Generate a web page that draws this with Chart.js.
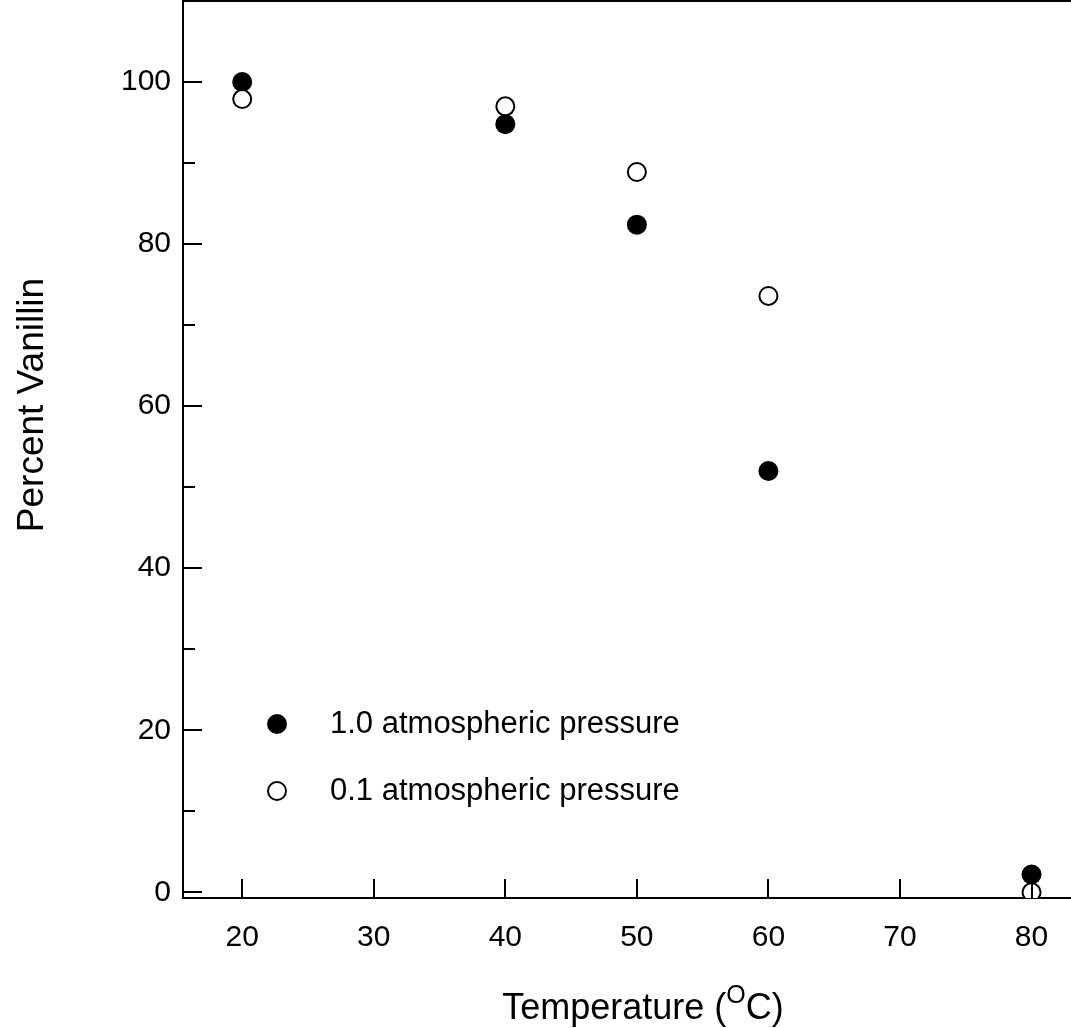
<!DOCTYPE html>
<html>
<head>
<meta charset="utf-8">
<script src="https://cdn.jsdelivr.net/npm/chart.js@4.4.0/dist/chart.umd.min.js"></script>
<style>
  body { margin: 0; background: #fff; }
  #wrap { width: 1071px; height: 1028px; }
</style>
</head>
<body>
<div id="wrap"><canvas id="chart" width="1071" height="1028"></canvas></div>
<script>
// data
const temps = [20, 40, 50, 60, 80];
const vanillinFull = [100, 94.8, 82.4, 52.0, 2.2];   // 1.0 atm, filled
const vanillinLow = [97.9, 97.0, 88.9, 73.6, 0];     // 0.1 atm, open
const seriesLabels = ['1.0 atmospheric pressure', '0.1 atmospheric pressure'];
const xTickLabels = [20, 30, 40, 50, 60, 70, 80];
const yTickLabels = [0, 20, 40, 60, 80, 100];
const yMinorTicks = [10, 30, 50, 70, 90];

const FONT = "'Liberation Sans', Arial, sans-serif";

const toPoints = (xs, ys) => xs.map((x, i) => ({ x: x, y: ys[i] }));

// inward tick marks, top frame line, titles and the legend
const decor = {
    id: 'decor',
    afterDraw(chart) {
        const ctx = chart.ctx;
        const area = chart.chartArea;
        const xs = chart.scales.x;
        const ys = chart.scales.y;
        ctx.save();
        ctx.strokeStyle = '#000';
        ctx.lineWidth = 2;
        ctx.beginPath();
        // top frame
        ctx.moveTo(area.left, area.top);
        ctx.lineTo(area.right, area.top);
        xTickLabels.forEach(v => {
            const px = Math.round(xs.getPixelForValue(v));
            ctx.moveTo(px, area.bottom);
            ctx.lineTo(px, area.bottom - 19);
        });
        yTickLabels.forEach(v => {
            const py = Math.round(ys.getPixelForValue(v));
            ctx.moveTo(area.left, py);
            ctx.lineTo(area.left + 19, py);
        });
        yMinorTicks.forEach(v => {
            const py = Math.round(ys.getPixelForValue(v));
            ctx.moveTo(area.left, py);
            ctx.lineTo(area.left + 12, py);
        });
        ctx.stroke();

        ctx.fillStyle = '#000';
        // y title
        ctx.save();
        ctx.translate(43, 405);
        ctx.rotate(-Math.PI / 2);
        ctx.font = '37px ' + FONT;
        ctx.textAlign = 'center';
        ctx.textBaseline = 'alphabetic';
        ctx.fillText('Percent Vanillin', 0, 0);
        ctx.restore();

        // x title with superscript O
        const big = '36px ' + FONT;
        const small = '25px ' + FONT;
        ctx.textAlign = 'left';
        ctx.textBaseline = 'alphabetic';
        ctx.font = big;
        const w1 = ctx.measureText('Temperature (').width;
        const w3 = ctx.measureText('C)').width;
        ctx.font = small;
        const w2 = ctx.measureText('O').width;
        let tx = 643 - (w1 + w2 + w3) / 2;
        const base = 1019;
        ctx.font = big;
        ctx.fillText('Temperature (', tx, base);
        tx += w1;
        ctx.font = small;
        ctx.fillText('O', tx, base - 16);
        tx += w2;
        ctx.font = big;
        ctx.fillText('C)', tx, base);

        // legend
        const rows = [724, 791];
        chart.data.datasets.forEach((ds, i) => {
            const y = rows[i];
            ctx.beginPath();
            ctx.arc(277, y, ds.pointRadius, 0, Math.PI * 2);
            ctx.fillStyle = ds.backgroundColor;
            ctx.fill();
            ctx.lineWidth = ds.borderWidth;
            ctx.strokeStyle = ds.borderColor;
            if (ds.borderWidth) ctx.stroke();
            ctx.fillStyle = '#000';
            ctx.font = '31px ' + FONT;
            ctx.textBaseline = 'middle';
            ctx.fillText(ds.label, 330, y);
        });
        ctx.restore();
    }
};

new Chart(document.getElementById('chart'), {
    type: 'scatter',
    data: {
        datasets: [
            {
                label: seriesLabels[0],
                data: toPoints(temps, vanillinFull),
                pointRadius: 10,
                pointHoverRadius: 10,
                backgroundColor: '#000',
                borderColor: '#000',
                borderWidth: 0,
                order: 2
            },
            {
                label: seriesLabels[1],
                data: toPoints(temps, vanillinLow),
                pointRadius: 9,
                pointHoverRadius: 9,
                backgroundColor: '#fff',
                borderColor: '#000',
                borderWidth: 2,
                order: 1
            }
        ]
    },
    options: {
        responsive: false,
        animation: false,
        devicePixelRatio: 1,
        layout: { autoPadding: false, padding: { top: 1, right: 0, bottom: 0, left: 0 } },
        plugins: {
            legend: { display: false },
            tooltip: { enabled: false }
        },
        scales: {
            x: {
                type: 'linear',
                min: 15.5,
                max: 83,
                grid: { display: false, drawTicks: false },
                border: { display: true, color: '#000', width: 2 },
                ticks: {
                    stepSize: 10,
                    includeBounds: false,
                    autoSkip: false,
                    maxRotation: 0,
                    padding: 22,
                    color: '#000',
                    font: { family: FONT, size: 30 },
                    callback: v => xTickLabels.includes(v) ? String(v) : ''
                },
                afterFit: s => {
                    s.height = 130;
                    s.paddingLeft = 0;
                    s.paddingRight = 0;
                }
            },
            y: {
                type: 'linear',
                min: -0.7,
                max: 110,
                grid: { display: false, drawTicks: false },
                border: { display: true, color: '#000', width: 2 },
                ticks: {
                    stepSize: 10,
                    includeBounds: false,
                    autoSkip: false,
                    padding: 12,
                    color: '#000',
                    font: { family: FONT, size: 30 },
                    callback: v => yTickLabels.includes(v) ? String(v) : ''
                },
                afterFit: s => {
                    s.width = 183;
                    s.paddingTop = 0;
                    s.paddingBottom = 0;
                }
            }
        }
    },
    plugins: [decor]
});
</script>
</body>
</html>
